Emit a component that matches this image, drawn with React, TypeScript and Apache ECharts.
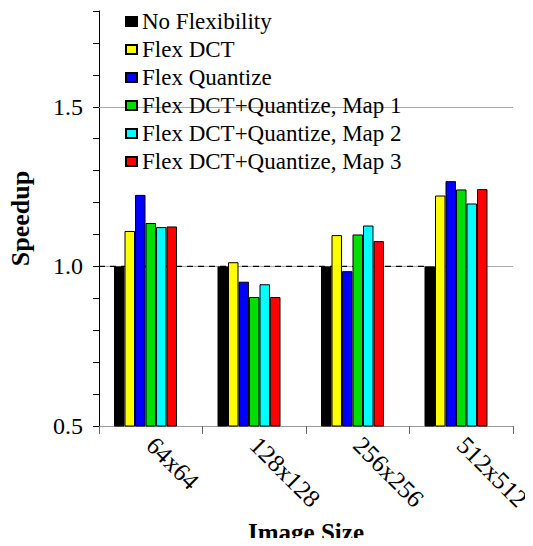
import React, { useEffect, useRef } from "react";
import * as echarts from "echarts";

const categories = ["64x64", "128x128", "256x256", "512x512"];
const seriesNames = [
  "No Flexibility",
  "Flex DCT",
  "Flex Quantize",
  "Flex DCT+Quantize, Map 1",
  "Flex DCT+Quantize, Map 2",
  "Flex DCT+Quantize, Map 3",
];
const noFlex = [1.0, 1.0, 1.0, 1.0];
const flexDct = [1.111, 1.013, 1.098, 1.222];
const flexQuant = [1.224, 0.952, 0.985, 1.267];
const map1 = [1.136, 0.904, 1.1, 1.241];
const map2 = [1.123, 0.944, 1.128, 1.197];
const map3 = [1.125, 0.904, 1.079, 1.242];
const seriesValues = [noFlex, flexDct, flexQuant, map1, map2, map3];
const colors = ["#000000", "#ffff00", "#0000ff", "#00dd00", "#00ffff", "#ff0000"];
const refLines = [1.0, 1.5];
const dashedLine = [
  [0, 1.0],
  [3.15, 1.0],
];

const FONT = "'Liberation Serif', 'Times New Roman', serif";

export default function App() {
  const ref = useRef<HTMLDivElement>(null);
  useEffect(() => {
    const chart = echarts.init(ref.current!, null, { renderer: "svg" });
    const bars: any[] = seriesValues.map((vals, i) => ({
      name: seriesNames[i],
      type: "bar",
      data: vals,
      barGap: "0%",
      barCategoryGap: "29%",
      itemStyle: { color: colors[i], borderColor: "#000", borderWidth: 1 },
      z: 5,
    }));
    bars.push({
      name: "",
      type: "bar",
      data: categories.map(() => null),
      barGap: "0%",
      barCategoryGap: "29%",
      itemStyle: { color: "transparent" },
    });
    bars[0].markLine = {
      silent: true,
      symbol: "none",
      label: { show: false },
      lineStyle: { color: "#aaaaaa", width: 1, type: "solid" },
      z: 1,
      data: refLines.map((v) => ({ yAxis: v })),
    };
    const option: any = {
      animation: false,
      textStyle: { fontFamily: FONT },
      grid: { left: 99, top: 11, right: 20, bottom: 120, containLabel: false, outerBoundsMode: "none" },
      legend: {
        data: seriesNames,
        orient: "vertical",
        left: 120,
        top: 5,
        itemWidth: 11,
        itemHeight: 9,
        itemGap: 5,
        icon: "rect",
        textStyle: { fontFamily: FONT, fontSize: 23, color: "#000" },
      },
      xAxis: [
        {
          type: "category",
          data: categories,
          axisLine: { lineStyle: { color: "#999999", width: 1 } },
          axisTick: { show: true, length: 8, lineStyle: { color: "#666666" } },
          axisLabel: {
            rotate: -45,
            fontFamily: FONT,
            fontSize: 25,
            color: "#000",
            margin: 15,
          },
          name: "Image Size",
          nameLocation: "middle",
          nameGap: 94,
          nameTextStyle: { fontFamily: FONT, fontSize: 25, fontWeight: "bold", color: "#000" },
        },
        {
          type: "value",
          min: 0,
          max: 4,
          show: false,
        },
      ],
      yAxis: {
        type: "value",
        min: 0.5,
        max: 1.8,
        interval: 0.1,
        splitLine: { show: false },
        axisLine: { show: true, lineStyle: { color: "#000", width: 1 } },
        axisTick: { show: true, length: 6, lineStyle: { color: "#000" } },
        axisLabel: {
          fontFamily: FONT,
          fontSize: 24,
          color: "#000",
          margin: 16,
          formatter: (v: number) => {
            const r = Math.round(v * 10);
            return r === 5 || r === 10 || r === 15 ? (r / 10).toFixed(1) : "";
          },
        },
        name: "Speedup",
        nameLocation: "middle",
        nameGap: 66,
        nameTextStyle: { fontFamily: FONT, fontSize: 26, fontWeight: "bold", color: "#000" },
      },
      series: [
        {
          name: "dashed",
          type: "line",
          xAxisIndex: 1,
          data: dashedLine,
          symbol: "none",
          silent: true,
          lineStyle: { color: "#000", width: 1.2, type: [6, 5] },
          z: 3,
        },
        ...bars,
      ],
    };
    chart.setOption(option);
    return () => chart.dispose();
  }, []);
  return <div ref={ref} style={{ width: 533, height: 546, margin: -8 }} />;
}
